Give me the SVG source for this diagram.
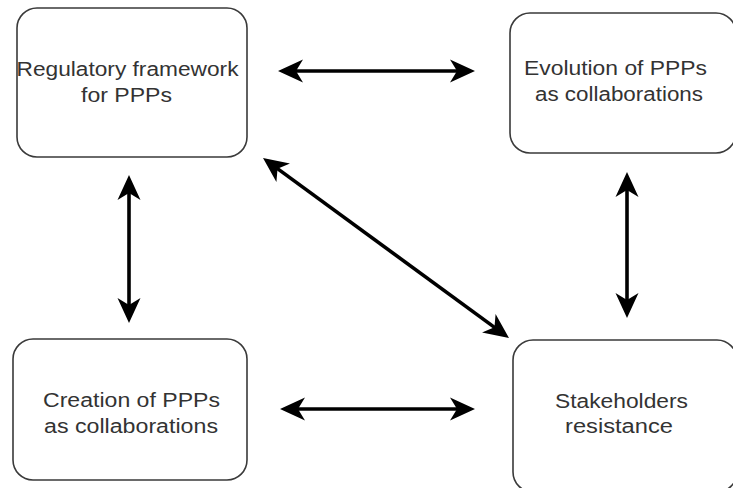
<svg xmlns="http://www.w3.org/2000/svg" width="733" height="488" viewBox="0 0 733 488">
  <style>
    .box { fill: #ffffff; stroke: #3a3a3a; stroke-width: 1.6; }
    .lbl { font-family: "Liberation Sans", Arial, sans-serif; font-size: 20px; fill: #333333; text-anchor: middle; }
    .conn { stroke: #000000; stroke-width: 3.6; fill: none; marker-start: url(#head); marker-end: url(#head); }
  </style>
  <defs>
    <marker id="head" viewBox="-27 -14 28 28" markerWidth="28" markerHeight="28" refX="-12" refY="0" markerUnits="userSpaceOnUse" orient="auto-start-reverse" overflow="visible">
      <path d="M0,0 L-25,-11.5 L-18,0 L-25,11.5 Z" fill="#000000"/>
    </marker>
  </defs>
  <rect width="733" height="488" fill="#ffffff"/>

  <g id="node-regulatory">
    <rect class="box" x="17" y="8" width="230" height="149" rx="20" ry="20"/>
    <text class="lbl" x="127.5" y="76" textLength="222" lengthAdjust="spacingAndGlyphs">Regulatory framework</text>
    <text class="lbl" x="126.5" y="102" textLength="91" lengthAdjust="spacingAndGlyphs">for PPPs</text>
  </g>

  <g id="node-evolution">
    <rect class="box" x="510" y="13" width="226" height="140" rx="20" ry="20"/>
    <text class="lbl" x="615.5" y="75" textLength="183" lengthAdjust="spacingAndGlyphs">Evolution of PPPs</text>
    <text class="lbl" x="619" y="101" textLength="168" lengthAdjust="spacingAndGlyphs">as collaborations</text>
  </g>

  <g id="node-creation">
    <rect class="box" x="13" y="339" width="234" height="141" rx="20" ry="20"/>
    <text class="lbl" x="131.5" y="407" textLength="177" lengthAdjust="spacingAndGlyphs">Creation of PPPs</text>
    <text class="lbl" x="131" y="433" textLength="174" lengthAdjust="spacingAndGlyphs">as collaborations</text>
  </g>

  <g id="node-stakeholders">
    <rect class="box" x="513" y="340" width="224" height="152" rx="20" ry="20"/>
    <text class="lbl" x="621.5" y="408" textLength="133" lengthAdjust="spacingAndGlyphs">Stakeholders</text>
    <text class="lbl" x="619" y="433" textLength="108" lengthAdjust="spacingAndGlyphs">resistance</text>
  </g>

  <g id="connectors">
    <line class="conn" x1="290" y1="71" x2="463" y2="71"/>
    <line class="conn" x1="292" y1="409" x2="463" y2="409"/>
    <line class="conn" x1="129" y1="187" x2="129" y2="311"/>
    <line class="conn" x1="627" y1="184" x2="627" y2="306"/>
    <line class="conn" x1="272.7" y1="165.1" x2="499.3" y2="330.9"/>
  </g>
</svg>
